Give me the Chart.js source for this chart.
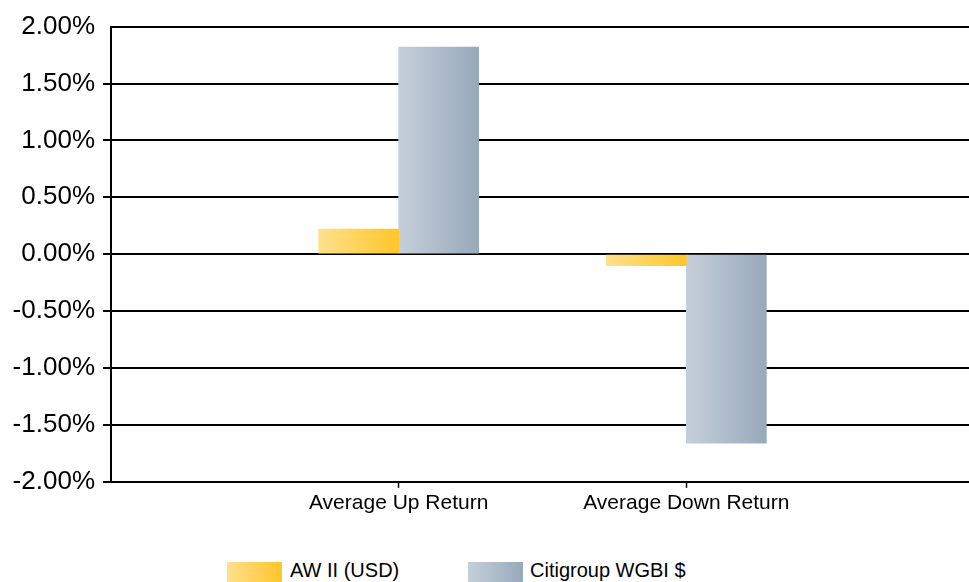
<!DOCTYPE html>
<html>
<head>
<meta charset="utf-8">
<script src="https://cdn.jsdelivr.net/npm/chart.js@4"></script>
<style>
  html, body { margin: 0; padding: 0; background: #fff; overflow: hidden; }
  body { width: 969px; height: 582px; position: relative; font-family: "Liberation Sans", Arial, sans-serif; }
  #wrap { position: absolute; left: 0; top: 3px; width: 977px; height: 530px; }
  .legend-item { position: absolute; top: 559px; height: 22px; font-size: 20px; color: #000; line-height: 22px; }
  .swatch { position: absolute; top: 3px; width: 55px; height: 21px; }
</style>
</head>
<body>
<div id="wrap"><canvas id="returnsChart"></canvas></div>
<div class="legend-item" style="left:227px"><span class="swatch" style="left:0;background:linear-gradient(to right,#ffe08c,#ffc62a)"></span><span style="position:absolute;left:63px;white-space:nowrap">AW II (USD)</span></div>
<div class="legend-item" style="left:468px"><span class="swatch" style="left:0;background:linear-gradient(to right,#c5cfd9,#98a9bb)"></span><span style="position:absolute;left:62px;white-space:nowrap">Citigroup WGBI $</span></div>
<script>
// Average monthly up / down returns (%)
const categories = ['Average Up Return', 'Average Down Return'];
const awValues = [0.22, -0.10];
const wgbiValues = [1.82, -1.66];
const yMin = -2, yMax = 2, yStep = 0.5;

// left -> right gradient stops for each series
const awColors = ['#ffe08c', '#ffc62a'];
const wgbiColors = ['#c5cfd9', '#98a9bb'];

// empty slots at both ends keep the two groups away from the edges
const labels = [''].concat(categories, ['']);
const pad = arr => [null].concat(arr, [null]);

// paint each bar with a horizontal gradient across its own width
const barGradient = {
  id: 'barGradient',
  beforeDatasetsDraw(chart) {
    const ctx = chart.ctx;
    chart.data.datasets.forEach((ds, i) => {
      chart.getDatasetMeta(i).data.forEach(bar => {
        if (!bar || isNaN(bar.x)) return;
        const left = bar.x - bar.width / 2;
        const g = ctx.createLinearGradient(left, 0, left + bar.width, 0);
        g.addColorStop(0, ds.gradientStops[0]);
        g.addColorStop(1, ds.gradientStops[1]);
        bar.options = Object.assign({}, bar.options, { backgroundColor: g });
      });
    });
  }
};

const ctx = document.getElementById('returnsChart').getContext('2d');
new Chart(ctx, {
  type: 'bar',
  data: {
    labels: labels,
    datasets: [{
      label: 'AW II (USD)',
      data: pad(awValues),
      gradientStops: awColors,
      backgroundColor: awColors[1],
      barThickness: 80
    }, {
      label: 'Citigroup WGBI $',
      data: pad(wgbiValues),
      gradientStops: wgbiColors,
      backgroundColor: wgbiColors[1],
      barThickness: 80
    }]
  },
  options: {
    responsive: true,
    maintainAspectRatio: false,
    animation: false,
    layout: { padding: { top: 19, bottom: 14, left: 0, right: 0 } },
    plugins: {
      legend: { display: false },
      tooltip: { enabled: false }
    },
    scales: {
      x: {
        offset: false,
        grid: {
          offset: false,
          drawOnChartArea: false,
          drawTicks: true,
          tickLength: 6,
          tickWidth: 1.5,
          tickColor: c => (labels[c.index] ? '#000' : 'rgba(0,0,0,0)')
        },
        border: { display: false },
        ticks: {
          autoSkip: false,
          maxRotation: 0,
          padding: 3,
          color: '#000',
          font: { family: '"Liberation Sans", Arial, sans-serif', size: 21 }
        }
      },
      y: {
        min: yMin,
        max: yMax,
        afterFit: scale => { scale.width = 111; },
        grid: {
          color: '#000',
          lineWidth: 2,
          tickLength: 8,
          tickColor: c => (c.tick && c.tick.value === yMax ? 'rgba(0,0,0,0)' : '#000')
        },
        border: { display: true, color: '#000', width: 2 },
        ticks: {
          stepSize: yStep,
          padding: 8,
          color: '#000',
          font: { family: '"Liberation Sans", Arial, sans-serif', size: 26 },
          callback: v => v.toFixed(2) + '%'
        }
      }
    }
  },
  plugins: [barGradient]
});
</script>
</body>
</html>
